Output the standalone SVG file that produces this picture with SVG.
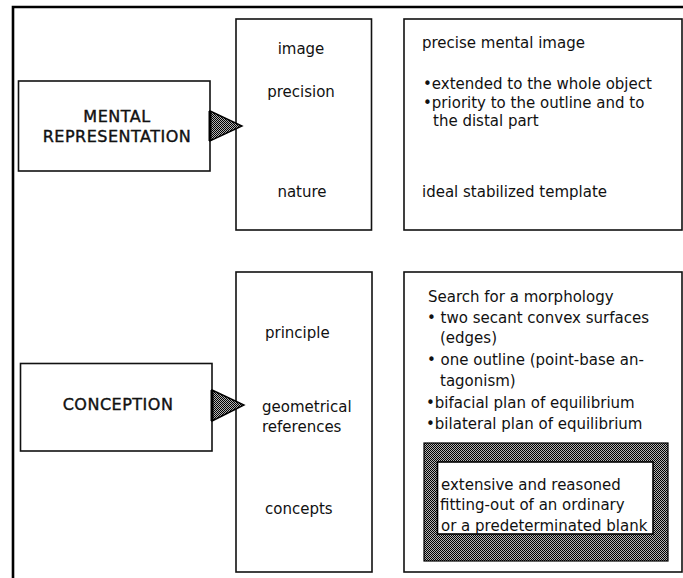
<svg xmlns="http://www.w3.org/2000/svg" width="683" height="578" viewBox="0 0 683 578">
  <defs>
    <pattern id="dither" width="2" height="2" patternUnits="userSpaceOnUse">
      <rect width="2" height="2" fill="#b4b4b4"/>
      <rect width="1" height="1" fill="#000"/>
      <rect x="1" y="1" width="1" height="1" fill="#000"/>
    </pattern>
    <style>
      .box { fill: #fff; stroke: #111; stroke-width: 1.6; }
      .frame { fill: none; stroke: #000; stroke-width: 2.6; }
      .t { font-family: "DejaVu Sans", "Liberation Sans", sans-serif; font-size: 15px; fill: #111; }
      .mid { text-anchor: middle; }
      .head { font-family: "DejaVu Sans", "Liberation Sans", sans-serif; font-size: 16px; fill: #111; stroke: #111; stroke-width: 0.4; text-anchor: middle; letter-spacing: 0.5px; }
      .arrow { fill: url(#dither); stroke: #000; stroke-width: 1.4; stroke-linejoin: miter; }
      .arrowbase { stroke: #000; stroke-width: 3; }
      .shade { fill: url(#dither); stroke: #000; stroke-width: 1.2; }
      .inner { fill: #fff; stroke: #000; stroke-width: 1.6; }
    </style>
  </defs>
  <rect width="683" height="578" fill="#fff"/>

  <g id="frame">
    <path class="frame" d="M13,578 V7 H683"/>
  </g>

  <!-- Top section -->
  <g id="node-mental-representation">
    <rect class="box" x="18.5" y="81" width="191.5" height="90"/>
    <text class="head" x="117" y="122">MENTAL</text>
    <text class="head" x="117" y="142">REPRESENTATION</text>
  </g>

  <g id="node-mental-aspects">
    <rect class="box" x="236" y="19" width="135.5" height="211"/>
    <text class="t mid" x="301" y="54">image</text>
    <text class="t mid" x="301" y="97">precision</text>
    <text class="t mid" x="302" y="196.5">nature</text>
  </g>

  <g id="node-mental-details">
    <rect class="box" x="404" y="19" width="278" height="211"/>
    <text class="t" x="422" y="48">precise mental image</text>
    <text class="t" x="423" y="89">•extended to the whole object</text>
    <text class="t" x="423" y="107.5">•priority to the outline and to</text>
    <text class="t" x="433" y="125.5">the distal part</text>
    <text class="t" x="422" y="196.5">ideal stabilized template</text>
  </g>

  <!-- Bottom section -->
  <g id="node-conception">
    <rect class="box" x="20.5" y="363.5" width="191.5" height="87.5"/>
    <text class="head" x="118" y="410">CONCEPTION</text>
  </g>

  <g id="node-conception-aspects">
    <rect class="box" x="236" y="272" width="136" height="300"/>
    <text class="t" x="265" y="337.5">principle</text>
    <text class="t" x="262" y="411.5">geometrical</text>
    <text class="t" x="262" y="431.5">references</text>
    <text class="t" x="265" y="514">concepts</text>
  </g>

  <g id="node-conception-details">
    <rect class="box" x="404" y="272" width="278" height="300"/>
    <text class="t" x="428" y="301.5">Search for a morphology</text>
    <text class="t" x="427" y="323">• two secant convex surfaces</text>
    <text class="t" x="440" y="343">(edges)</text>
    <text class="t" x="427" y="365">• one outline (point-base an-</text>
    <text class="t" x="440" y="385.5">tagonism)</text>
    <text class="t" x="426" y="408">•bifacial plan of equilibrium</text>
    <text class="t" x="426" y="429">•bilateral plan of equilibrium</text>
  </g>

  <g id="node-fitting-out">
    <rect class="shade" x="424" y="443" width="244" height="118"/>
    <rect class="inner" x="437.5" y="462" width="215.5" height="72"/>
    <text class="t" x="441" y="490">extensive and reasoned</text>
    <text class="t" x="440" y="510">fitting-out of an ordinary</text>
    <text class="t" x="441" y="531">or a predeterminated blank</text>
  </g>

  <g id="connectors">
    <polygon class="arrow" points="210,111 242,126 210,141"/>
    <line class="arrowbase" x1="210" y1="111" x2="210" y2="141"/>
    <polygon class="arrow" points="212,390 244,405 212,421"/>
    <line class="arrowbase" x1="212" y1="390" x2="212" y2="421"/>
  </g>
</svg>
